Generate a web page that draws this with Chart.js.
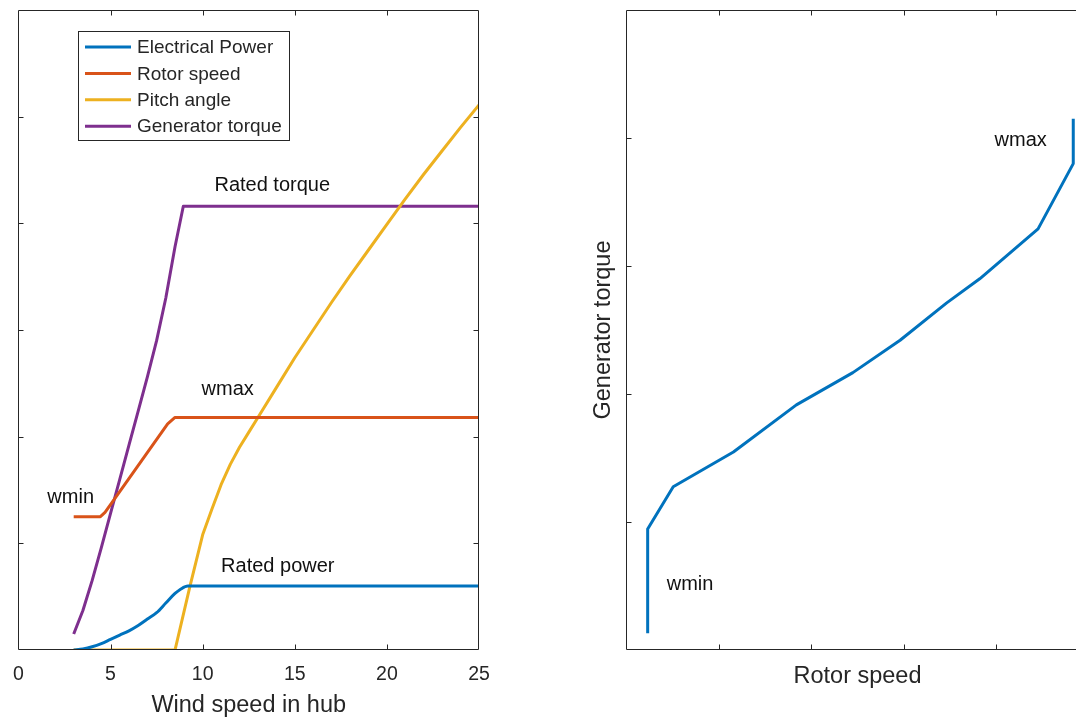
<!DOCTYPE html>
<html>
<head>
<meta charset="utf-8">
<script src="https://cdn.jsdelivr.net/npm/chart.js@4.4.1/dist/chart.umd.min.js"></script>
<style>
  html, body { margin: 0; padding: 0; background: #fff; overflow: hidden; }
  body { width: 1076px; height: 720px; position: relative; }
  canvas { position: absolute; top: 0; }
  #left { left: 0; }
  #right { left: 540px; }
</style>
</head>
<body>
<canvas id="left" width="540" height="720"></canvas>
<canvas id="right" width="560" height="720"></canvas>
<script>
// Left plot: operating curves against hub wind speed
const powerWind = [3, 3.5, 4, 4.5, 5, 5.5, 6, 6.5, 7, 7.5, 8, 8.5, 8.8, 9.2, 25];
const electricalPower = [0, 0.01, 0.03, 0.06, 0.1, 0.14, 0.18, 0.23, 0.29, 0.35, 0.44, 0.53, 0.57, 0.6, 0.6];

const rotorWind = [3, 4.45, 4.7, 8.1, 8.5, 25];
const rotorSpeed = [1.25, 1.25, 1.29, 2.12, 2.18, 2.18];

const pitchWind = [3, 8.5, 9.3, 10, 10.5, 11, 11.5, 12, 12.5, 13, 14, 15, 16, 17, 18, 19, 20, 21, 22, 23, 24, 25];
const pitchAngle = [0, 0, 0.59, 1.08, 1.32, 1.55, 1.74, 1.9, 2.04, 2.18, 2.46, 2.74, 3.0, 3.26, 3.51, 3.75, 3.99, 4.23, 4.46, 4.68, 4.9, 5.11];

const torqueWind = [3, 3.5, 4, 4.5, 5, 5.5, 6, 6.5, 7, 7.5, 8, 8.5, 8.95, 25];
const generatorTorque = [0.15, 0.37, 0.65, 0.96, 1.28, 1.6, 1.92, 2.24, 2.56, 2.9, 3.3, 3.78, 4.16, 4.16];

const windTicks = [0, 5, 10, 15, 20, 25];

// Right plot: torque vs rotor speed trajectory
const trackSpeed = [0.234, 0.234, 0.51, 1.16, 1.84, 2.45, 2.96, 3.46, 3.82, 4.45, 4.83, 4.83];
const trackTorque = [0.13, 0.945, 1.275, 1.547, 1.915, 2.167, 2.42, 2.71, 2.9, 3.29, 3.8, 4.15];

// text labels, in data coordinates (baseline)
const leftNotes = [
  { text: "Rated torque", x: 10.64, y: 4.3 },
  { text: "wmax", x: 9.94, y: 2.39 },
  { text: "wmin", x: 1.57, y: 1.38 },
  { text: "Rated power", x: 11.0, y: 0.73 }
];
const rightNotes = [
  { text: "wmax", x: 3.98, y: 3.94 },
  { text: "wmin", x: 0.44, y: 0.47 }
];

const FONT = "'Liberation Sans', Arial, Helvetica, sans-serif";
const AXIS = "#262626";
const BLUE = "#0072BD", ORANGE = "#D95319", YELLOW = "#EDB120", PURPLE = "#7E2F8E";

const pts = (xs, ys) => xs.map((x, i) => ({ x, y: ys[i] }));

const line = (label, xs, ys, color, smooth) => ({
  label,
  data: pts(xs, ys),
  borderColor: color,
  backgroundColor: color,
  borderWidth: 3,
  pointRadius: 0,
  pointHoverRadius: 0,
  fill: false,
  tension: smooth ? 0.4 : 0,
  cubicInterpolationMode: smooth ? "monotone" : "default",
  borderJoinStyle: "round"
});

// box with inward ticks, text notes and a boxed legend, like the original figure
const boxPlugin = {
  id: "matlabBox",
  afterDatasetsDraw(chart, args, opts) {
    const { ctx, chartArea: a, scales: { x, y } } = chart;
    ctx.save();
    ctx.strokeStyle = AXIS;
    ctx.lineWidth = 1;
    ctx.beginPath();
    const L = Math.round(a.left) + 0.5, R = Math.round(a.right) - 0.5;
    const T = Math.round(a.top) + 0.5, B = Math.round(a.bottom) - 0.5;
    ctx.rect(L, T, R - L, B - T);
    x.ticks.forEach(t => {
      if (t.value <= x.min || t.value >= x.max) return;
      const px = Math.round(x.getPixelForValue(t.value)) + 0.5;
      ctx.moveTo(px, B); ctx.lineTo(px, B - 5);
      ctx.moveTo(px, T); ctx.lineTo(px, T + 5);
    });
    y.ticks.forEach(t => {
      if (t.value <= y.min || t.value >= y.max) return;
      const py = Math.round(y.getPixelForValue(t.value)) + 0.5;
      ctx.moveTo(L, py); ctx.lineTo(L + 5, py);
      ctx.moveTo(R, py); ctx.lineTo(R - 5, py);
    });
    ctx.stroke();

    ctx.fillStyle = "#111";
    ctx.font = "20px " + FONT;
    ctx.textAlign = "left";
    ctx.textBaseline = "alphabetic";
    (opts.notes || []).forEach(n => {
      ctx.fillText(n.text, x.getPixelForValue(n.x), y.getPixelForValue(n.y));
    });

    if (opts.legend) {
      const lg = opts.legend;
      ctx.fillStyle = "#fff";
      ctx.fillRect(lg.left, lg.top, lg.width, lg.height);
      ctx.strokeStyle = AXIS;
      ctx.strokeRect(lg.left + 0.5, lg.top + 0.5, lg.width, lg.height);
      ctx.font = "19px " + FONT;
      ctx.textBaseline = "middle";
      chart.data.datasets.forEach((ds, i) => {
        const ry = lg.top + 16 + i * 26.4;
        ctx.strokeStyle = ds.borderColor;
        ctx.lineWidth = 3;
        ctx.beginPath();
        ctx.moveTo(lg.left + 7, ry);
        ctx.lineTo(lg.left + 53, ry);
        ctx.stroke();
        ctx.fillStyle = AXIS;
        ctx.fillText(ds.label, lg.left + 59, ry + 1);
      });
    }
    ctx.restore();
  }
};

Chart.defaults.font.family = FONT;
Chart.defaults.color = AXIS;

new Chart(document.getElementById("left"), {
  type: "line",
  data: {
    datasets: [
      line("Electrical Power", powerWind, electricalPower, BLUE, true),
      line("Rotor speed", rotorWind, rotorSpeed, ORANGE),
      line("Pitch angle", pitchWind, pitchAngle, YELLOW),
      line("Generator torque", torqueWind, generatorTorque, PURPLE)
    ]
  },
  options: {
    responsive: false,
    animation: false,
    devicePixelRatio: 1,
    layout: { autoPadding: false, padding: { left: 16, top: 10, right: 61, bottom: 0 } },
    plugins: {
      legend: { display: false },
      tooltip: { enabled: false },
      matlabBox: {
        notes: leftNotes,
        legend: { left: 78, top: 31, width: 211, height: 109 }
      }
    },
    scales: {
      x: {
        type: "linear",
        min: 0,
        max: 25,
        afterBuildTicks: s => { s.ticks = windTicks.map(v => ({ value: v })); },
        afterFit: s => { s.height = 70; },
        grid: { display: false, drawTicks: false },
        border: { display: false },
        ticks: { color: AXIS, font: { size: 19.5 }, padding: 13, maxRotation: 0, autoSkip: false },
        title: {
          display: true,
          text: "Wind speed in hub",
          color: AXIS,
          font: { size: 23.5 },
          padding: { top: 0, bottom: 0 }
        }
      },
      y: {
        type: "linear",
        display: false,
        min: 0,
        max: 6,
        ticks: { stepSize: 1 }
      }
    }
  },
  plugins: [boxPlugin]
});

new Chart(document.getElementById("right"), {
  type: "line",
  data: {
    datasets: [line("Trajectory", trackSpeed, trackTorque, BLUE)]
  },
  options: {
    responsive: false,
    animation: false,
    devicePixelRatio: 1,
    layout: { autoPadding: false, padding: { left: 0, top: 10, right: 11, bottom: 0 } },
    plugins: {
      legend: { display: false },
      tooltip: { enabled: false },
      matlabBox: { notes: rightNotes }
    },
    scales: {
      x: {
        type: "linear",
        min: 0,
        max: 5,
        ticks: { display: false, stepSize: 1 },
        afterFit: s => { s.height = 70; },
        grid: { display: false, drawTicks: false },
        border: { display: false },
        title: {
          display: true,
          text: "Rotor speed",
          color: AXIS,
          font: { size: 23.5 },
          padding: { top: 0, bottom: 29 }
        }
      },
      y: {
        type: "linear",
        min: 0,
        max: 5,
        ticks: { display: false, stepSize: 1 },
        afterFit: s => { s.width = 86; },
        grid: { display: false, drawTicks: false },
        border: { display: false },
        title: {
          display: true,
          text: "Generator torque",
          color: AXIS,
          font: { size: 23.5 },
          padding: { top: 49, bottom: 0 }
        }
      }
    }
  },
  plugins: [boxPlugin]
});
</script>
</body>
</html>
